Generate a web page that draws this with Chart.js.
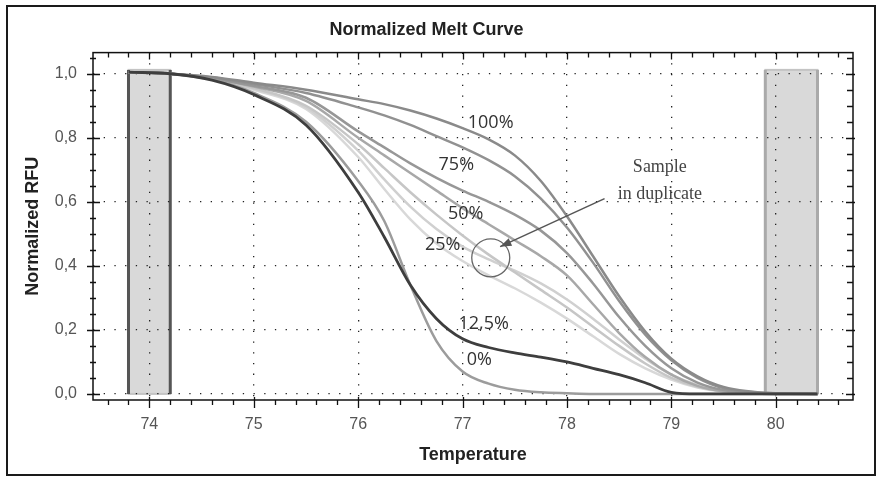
<!DOCTYPE html>
<html>
<head>
<meta charset="utf-8">
<script src="https://cdn.jsdelivr.net/npm/chart.js@4.4.1/dist/chart.umd.min.js"></script>
<style>
  body { margin: 0; background: #fff; }
</style>
</head>
<body>
<canvas id="melt" width="878" height="477"></canvas>
<script>
// temperatures shared by all the curves
var temps = [73.8, 74.2, 74.6, 75.0, 75.5, 76.0, 76.25, 76.5, 76.75, 77.0, 77.25, 77.5,
             77.75, 78.0, 78.25, 78.5, 78.75, 79.0, 79.25, 79.5, 80.0, 80.4];

var rfu12_5  = [1.005, 1.0, 0.98, 0.935, 0.84, 0.63, 0.49, 0.34, 0.235, 0.172, 0.145, 0.128,
                0.115, 0.1, 0.08, 0.06, 0.035, 0.005, 0, 0, 0, 0];
var rfu100   = [1.005, 1.0, 0.99, 0.972, 0.95, 0.92, 0.905, 0.885, 0.86, 0.83, 0.795, 0.745,
                0.665, 0.555, 0.43, 0.305, 0.195, 0.11, 0.055, 0.022, 0.002, 0];
var rfu75    = [1.005, 1.0, 0.988, 0.968, 0.94, 0.895, 0.87, 0.84, 0.805, 0.77, 0.73, 0.68,
                0.61, 0.52, 0.41, 0.29, 0.185, 0.105, 0.05, 0.018, 0.002, 0];
var rfu50a   = [1.005, 1.0, 0.985, 0.962, 0.925, 0.82, 0.77, 0.72, 0.675, 0.635, 0.60, 0.56,
                0.51, 0.44, 0.345, 0.24, 0.15, 0.08, 0.035, 0.012, 0.001, 0];
var rfu50b   = [1.005, 1.0, 0.985, 0.96, 0.915, 0.8, 0.745, 0.69, 0.635, 0.58, 0.53, 0.48,
                0.43, 0.37, 0.28, 0.19, 0.115, 0.06, 0.025, 0.008, 0, 0];
var rfu25a   = [1.005, 1.0, 0.983, 0.955, 0.9, 0.78, 0.705, 0.63, 0.56, 0.495, 0.435, 0.38,
                0.325, 0.27, 0.21, 0.15, 0.095, 0.05, 0.022, 0.008, 0, 0];
var rfu25b   = [1.005, 1.0, 0.983, 0.953, 0.895, 0.76, 0.67, 0.585, 0.515, 0.46, 0.42, 0.385,
                0.345, 0.295, 0.235, 0.17, 0.11, 0.06, 0.028, 0.01, 0, 0];
var rfu25c   = [1.005, 1.0, 0.982, 0.95, 0.89, 0.74, 0.64, 0.545, 0.47, 0.415, 0.37, 0.33,
                0.285, 0.235, 0.18, 0.125, 0.08, 0.045, 0.02, 0.007, 0, 0];
var rfu0     = [1.005, 1.0, 0.982, 0.94, 0.85, 0.665, 0.54, 0.34, 0.165, 0.07, 0.032, 0.013,
                0.005, 0.002, 0, 0, 0, 0, 0, 0, 0, 0];

var xTicks = [74, 75, 76, 77, 78, 79, 80];
var yTicks = [0, 0.2, 0.4, 0.6, 0.8, 1.0];

// grey melt regions
var regionStart = [73.8, 79.9];
var regionEnd = [74.2, 80.4];
var regionTop = 1.012;

var curveLabels = [
    {text: "100%", x: 77.05, y: 0.847},
    {text: "75%", x: 76.77, y: 0.716},
    {text: "50%", x: 76.86, y: 0.562},
    {text: "25%.", x: 76.64, y: 0.465},
    {text: "12,5%", x: 76.96, y: 0.219},
    {text: "0%", x: 77.04, y: 0.106}
];

function pts(arr) {
    return temps.map(function (t, i) { return {x: t, y: arr[i]}; });
}

function curve(label, arr, color, width) {
    return {
        label: label,
        data: pts(arr),
        borderColor: color,
        borderWidth: width || 2.5,
        pointRadius: 0,
        fill: false,
        cubicInterpolationMode: 'monotone'
    };
}

var decor = {
    id: 'decor',
    beforeDraw: function (chart) {
        var ctx = chart.ctx, x = chart.scales.x, y = chart.scales.y;
        ctx.save();
        ctx.fillStyle = '#fff';
        ctx.fillRect(0, 0, chart.width, chart.height);
        ctx.strokeStyle = '#1a1a1a';
        ctx.lineWidth = 2;
        ctx.strokeRect(7, 6, 868, 469);

        var edges = ['#555', '#aaa'];
        for (var i = 0; i < regionStart.length; i++) {
            var x1 = x.getPixelForValue(regionStart[i]);
            var x2 = x.getPixelForValue(regionEnd[i]);
            var yt = y.getPixelForValue(regionTop);
            var yb = y.getPixelForValue(0);
            ctx.fillStyle = '#d9d9d9';
            ctx.fillRect(x1, yt, x2 - x1, yb - yt);
            ctx.strokeStyle = '#c4c4c4';
            ctx.lineWidth = 2;
            ctx.strokeRect(x1, yt, x2 - x1, yb - yt);
            ctx.strokeStyle = edges[i];
            ctx.lineWidth = 3;
            ctx.beginPath();
            ctx.moveTo(x1, yt); ctx.lineTo(x1, yb);
            ctx.moveTo(x2, yt); ctx.lineTo(x2, yb);
            ctx.stroke();
        }
        ctx.restore();
    },
    afterDraw: function (chart) {
        var ctx = chart.ctx, a = chart.chartArea, x = chart.scales.x, y = chart.scales.y;
        ctx.save();

        // frame
        ctx.strokeStyle = '#111';
        ctx.lineWidth = 1.5;
        ctx.strokeRect(a.left, a.top, a.right - a.left, a.bottom - a.top);

        // ticks, minor every 0.2 on x and 0.05 on y
        ctx.lineWidth = 1.3;
        ctx.beginPath();
        for (var k = 368; k <= 403; k++) {
            var px = Math.round(x.getPixelForValue(k / 5)) + 0.5;
            if (px < a.left || px > a.right) continue;
            var major = k % 5 === 0;
            ctx.moveTo(px, a.bottom - (major ? 3 : 0));
            ctx.lineTo(px, a.bottom + (major ? 8 : 5));
            ctx.moveTo(px, a.top);
            ctx.lineTo(px, a.top + (major ? 7 : 5));
        }
        for (var j = 0; j <= 21; j++) {
            var py = Math.round(y.getPixelForValue(j / 20)) + 0.5;
            if (py < a.top || py > a.bottom) continue;
            var maj = j % 4 === 0;
            ctx.moveTo(a.left - (maj ? 6 : 3), py);
            ctx.lineTo(a.left + (maj ? 7 : 3), py);
            ctx.moveTo(a.right - (maj ? 7 : 6), py);
            ctx.lineTo(a.right + (maj ? 2 : 0), py);
        }
        ctx.stroke();

        // curve labels
        ctx.fillStyle = '#333';
        ctx.font = '18px "Open Sans"';
        ctx.textBaseline = 'middle';
        ctx.textAlign = 'left';
        curveLabels.forEach(function (l) {
            ctx.fillText(l.text, x.getPixelForValue(l.x), y.getPixelForValue(l.y));
        });

        // duplicate circle and arrow
        var cx = x.getPixelForValue(77.27), cy = y.getPixelForValue(0.425);
        ctx.strokeStyle = '#666';
        ctx.lineWidth = 1.3;
        ctx.beginPath();
        ctx.arc(cx, cy, 19, 0, Math.PI * 2);
        ctx.stroke();

        var sx = x.getPixelForValue(78.36), sy = y.getPixelForValue(0.61);
        var ex = x.getPixelForValue(77.36), ey = y.getPixelForValue(0.46);
        ctx.strokeStyle = '#555';
        ctx.lineWidth = 1.5;
        ctx.beginPath();
        ctx.moveTo(sx, sy);
        ctx.lineTo(ex, ey);
        ctx.stroke();
        var ang = Math.atan2(ey - sy, ex - sx);
        ctx.fillStyle = '#555';
        ctx.beginPath();
        ctx.moveTo(ex, ey);
        ctx.lineTo(ex - 12 * Math.cos(ang - 0.35), ey - 12 * Math.sin(ang - 0.35));
        ctx.lineTo(ex - 12 * Math.cos(ang + 0.35), ey - 12 * Math.sin(ang + 0.35));
        ctx.closePath();
        ctx.fill();

        ctx.fillStyle = '#444';
        ctx.font = '18px "Liberation Serif"';
        ctx.textAlign = 'center';
        ctx.fillText('Sample', x.getPixelForValue(78.89), y.getPixelForValue(0.707));
        ctx.fillText('in duplicate', x.getPixelForValue(78.89), y.getPixelForValue(0.622));
        ctx.restore();
    }
};

var ctx = document.getElementById('melt').getContext('2d');
new Chart(ctx, {
    type: 'line',
    data: {
        datasets: [
            curve('12.5%', rfu12_5, '#3e3e3e', 2.8),
            curve('0%', rfu0, '#9c9c9c'),
            curve('100%', rfu100, '#8a8a8a'),
            curve('75%', rfu75, '#919191'),
            curve('50%', rfu50a, '#979797'),
            curve('50%', rfu50b, '#a8a8a8'),
            curve('25%', rfu25a, '#c6c6c6'),
            curve('25%', rfu25b, '#d0d0d0'),
            curve('25%', rfu25c, '#d8d8d8')
        ]
    },
    options: {
        responsive: false,
        animation: false,
        layout: {padding: {left: 0, right: 25, top: 0, bottom: 0}},
        plugins: {
            legend: {display: false},
            tooltip: {enabled: false},
            title: {
                display: true,
                text: 'Normalized Melt Curve',
                color: '#222',
                font: {family: '"Liberation Sans", Arial', size: 18, weight: 'bold'},
                padding: {top: 19, bottom: 12}
            }
        },
        scales: {
            x: {
                type: 'linear',
                min: 73.46,
                max: 80.74,
                afterBuildTicks: function (s) { s.ticks = xTicks.map(function (v) { return {value: v}; }); },
                afterFit: function (s) { s.height = 77; },
                ticks: {
                    color: '#555',
                    padding: 15,
                    font: {family: '"Liberation Sans", Arial', size: 16},
                    callback: function (v) { return v; }
                },
                grid: {color: '#222', lineWidth: 1.3, drawTicks: false},
                border: {display: false, dash: [1.3, 9.4]},
                title: {
                    display: true,
                    text: 'Temperature',
                    color: '#222',
                    font: {family: '"Liberation Sans", Arial', size: 18, weight: 'bold'},
                    padding: {top: 0, bottom: 11}
                }
            },
            y: {
                min: -0.019,
                max: 1.066,
                afterBuildTicks: function (s) { s.ticks = yTicks.map(function (v) { return {value: v}; }); },
                afterFit: function (s) { s.width = 93; },
                ticks: {
                    color: '#555',
                    padding: 16,
                    font: {family: '"Liberation Sans", Arial', size: 16},
                    callback: function (v) { return v.toFixed(1).replace('.', ','); }
                },
                grid: {color: '#222', lineWidth: 1.3, drawTicks: false},
                border: {display: false, dash: [1.3, 9.4]},
                title: {
                    display: true,
                    text: 'Normalized RFU',
                    color: '#222',
                    font: {family: '"Liberation Sans", Arial', size: 18, weight: 'bold'},
                    padding: {top: 22, bottom: 0}
                }
            }
        }
    },
    plugins: [decor]
});
</script>
</body>
</html>
